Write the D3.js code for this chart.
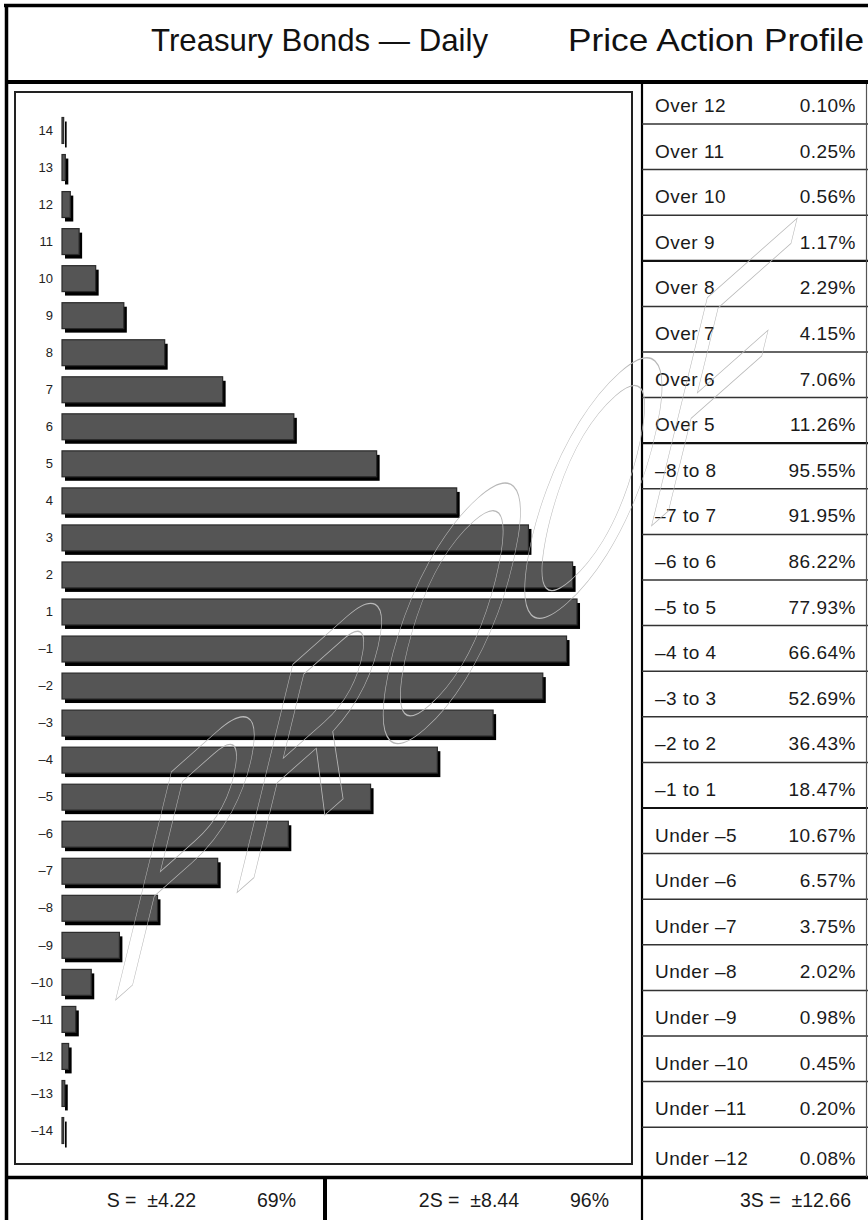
<!DOCTYPE html>
<html>
<head>
<meta charset="utf-8">
<script src="https://cdn.jsdelivr.net/npm/d3@7/dist/d3.min.js"></script>
<style>
  html, body { margin: 0; padding: 0; background: #fff; }
  svg { display: block; font-family: "Liberation Sans", Arial, Helvetica, sans-serif; }
</style>
</head>
<body>
<svg id="chart" width="868" height="1220"></svg>
<script>
// ---- data ----
const titleLeft = "Treasury Bonds — Daily";
const titleRight = "Price Action Profile";

const binLabels = ["14","13","12","11","10","9","8","7","6","5","4","3","2","1",
  "–1","–2","–3","–4","–5","–6","–7","–8","–9","–10","–11","–12","–13","–14"];
const binValues = [0.03,0.06,0.15,0.31,0.61,1.12,1.86,2.91,4.20,5.70,7.15,8.45,9.25,9.33,
  9.14,8.71,7.81,6.80,5.59,4.10,2.82,1.73,1.04,0.53,0.25,0.12,0.05,0.03];

const profileLabels = ["Over 12","Over 11","Over 10","Over 9","Over 8","Over 7","Over 6","Over 5",
  "–8 to 8","–7 to 7","–6 to 6","–5 to 5","–4 to 4","–3 to 3","–2 to 2","–1 to 1",
  "Under –5","Under –6","Under –7","Under –8","Under –9","Under –10","Under –11","Under –12"];
const profileValues = ["0.10%","0.25%","0.56%","1.17%","2.29%","4.15%","7.06%","11.26%",
  "95.55%","91.95%","86.22%","77.93%","66.64%","52.69%","36.43%","18.47%",
  "10.67%","6.57%","3.75%","2.02%","0.98%","0.45%","0.20%","0.08%"];

const statLabels = ["S =  ±4.22","2S =  ±8.44","3S =  ±12.66"];
const statPercents = ["69%","96%",""];

const watermarkText = "PROOF";

// ---- drawing ----
const svg = d3.select("#chart");
svg.append("rect").attr("width",868).attr("height",1220).attr("fill","#fff");

// frame
const frame = svg.append("g").attr("stroke","#000").attr("fill","none");
frame.append("line").attr("x1",4).attr("x2",868).attr("y1",5.5).attr("y2",5.5).attr("stroke-width",3.5);
frame.append("line").attr("x1",6.5).attr("x2",6.5).attr("y1",4).attr("y2",1220).attr("stroke-width",3.5);
frame.append("line").attr("x1",5).attr("x2",868).attr("y1",82).attr("y2",82).attr("stroke-width",4);
frame.append("line").attr("x1",5).attr("x2",868).attr("y1",1177.5).attr("y2",1177.5).attr("stroke-width",3.5);
frame.append("line").attr("x1",325).attr("x2",325).attr("y1",1177).attr("y2",1220).attr("stroke-width",4);
frame.append("line").attr("x1",642).attr("x2",642).attr("y1",84).attr("y2",1220).attr("stroke-width",2.2);

// title
svg.append("text").attr("x",151).attr("y",51).attr("font-size",31.5).attr("fill","#111")
  .attr("textLength",337).attr("lengthAdjust","spacingAndGlyphs").text(titleLeft);
svg.append("text").attr("x",568).attr("y",51).attr("font-size",31.5).attr("fill","#111")
  .attr("textLength",296).attr("lengthAdjust","spacingAndGlyphs").text(titleRight);

// chart box
svg.append("rect").attr("x",15).attr("y",92).attr("width",617).attr("height",1072)
  .attr("fill","none").attr("stroke","#222").attr("stroke-width",2);

// scales
const x = d3.scaleLinear().domain([0,10]).range([62,614]);
const y = d3.scaleBand().domain(binLabels).range([106.4,1154.6]).paddingInner(0.3).paddingOuter(0.3);

const bars = svg.append("g");
const data = binLabels.map((l,i)=>({label:l, value:binValues[i]}));
// shadows
bars.selectAll("rect.sh").data(data).join("rect").attr("class","sh")
  .attr("x", x(0)+3).attr("y", d=>y(d.label)+4)
  .attr("width", d=>Math.max(1.5, x(d.value)-x(0))).attr("height", y.bandwidth())
  .attr("fill","#000");
// bars
bars.selectAll("rect.bar").data(data).join("rect").attr("class","bar")
  .attr("x", x(0)).attr("y", d=>y(d.label))
  .attr("width", d=>Math.max(1, x(d.value)-x(0))).attr("height", y.bandwidth())
  .attr("fill","#555").attr("stroke","#2a2a2a").attr("stroke-width",1.2);

// axis labels
const yAxis = d3.axisLeft(y).tickSize(0).tickPadding(0);
const ag = svg.append("g").attr("transform","translate(53,0)").call(yAxis);
ag.select(".domain").remove();
ag.selectAll("text").attr("font-size",13).attr("fill","#222")
  .attr("font-family","Liberation Sans, Arial, sans-serif");

// right table
const rowBottoms = profileLabels.map((d,i)=> i<profileLabels.length-1 ? 124 + i*45.6 : 1177);
const tbl = svg.append("g");
tbl.selectAll("line.div").data(rowBottoms.slice(0,-1)).join("line").attr("class","div")
  .attr("x1",642).attr("x2",868).attr("y1",d=>d).attr("y2",d=>d)
  .attr("stroke",(d,i)=> (i===3||i===7||i===15) ? "#111" : "#333")
  .attr("stroke-width",(d,i)=> (i===3||i===7||i===15) ? 2.2 : 1.5);
tbl.append("line").attr("x1",866.5).attr("x2",866.5).attr("y1",84).attr("y2",1177)
  .attr("stroke","#555").attr("stroke-width",1.2);
tbl.selectAll("text.lab").data(profileLabels).join("text").attr("class","lab")
  .attr("x",655).attr("y",(d,i)=>rowBottoms[i]-12)
  .attr("font-size",19).attr("letter-spacing",0.5).attr("fill","#1a1a1a").text(d=>d);
tbl.selectAll("text.val").data(profileValues).join("text").attr("class","val")
  .attr("x",856).attr("y",(d,i)=>rowBottoms[i]-12).attr("text-anchor","end")
  .attr("font-size",19).attr("letter-spacing",0.5).attr("fill","#1a1a1a").text(d=>d);

// bottom stats
const statEnds = [196,519,851];
const pctEnds = [296,609,0];
const st = svg.append("g").attr("font-size",19.5).attr("fill","#1a1a1a");
statLabels.forEach((s,i)=>{
  st.append("text").attr("x",statEnds[i]).attr("y",1207).attr("text-anchor","end")
    .style("white-space","pre").text(s);
  if (statPercents[i]) st.append("text").attr("x",pctEnds[i]).attr("y",1207)
    .attr("text-anchor","end").text(statPercents[i]);
});

// watermark (outlined, slanted)
svg.append("text")
  .attr("transform","translate(110,1005) skewY(-41.5) skewX(-10) scale(0.7,1)")
  .attr("font-size",260).attr("font-style","italic")
  .attr("fill","none").attr("stroke","#b8b8b8").attr("stroke-width",1)
  .text(watermarkText);
</script>
</body>
</html>
